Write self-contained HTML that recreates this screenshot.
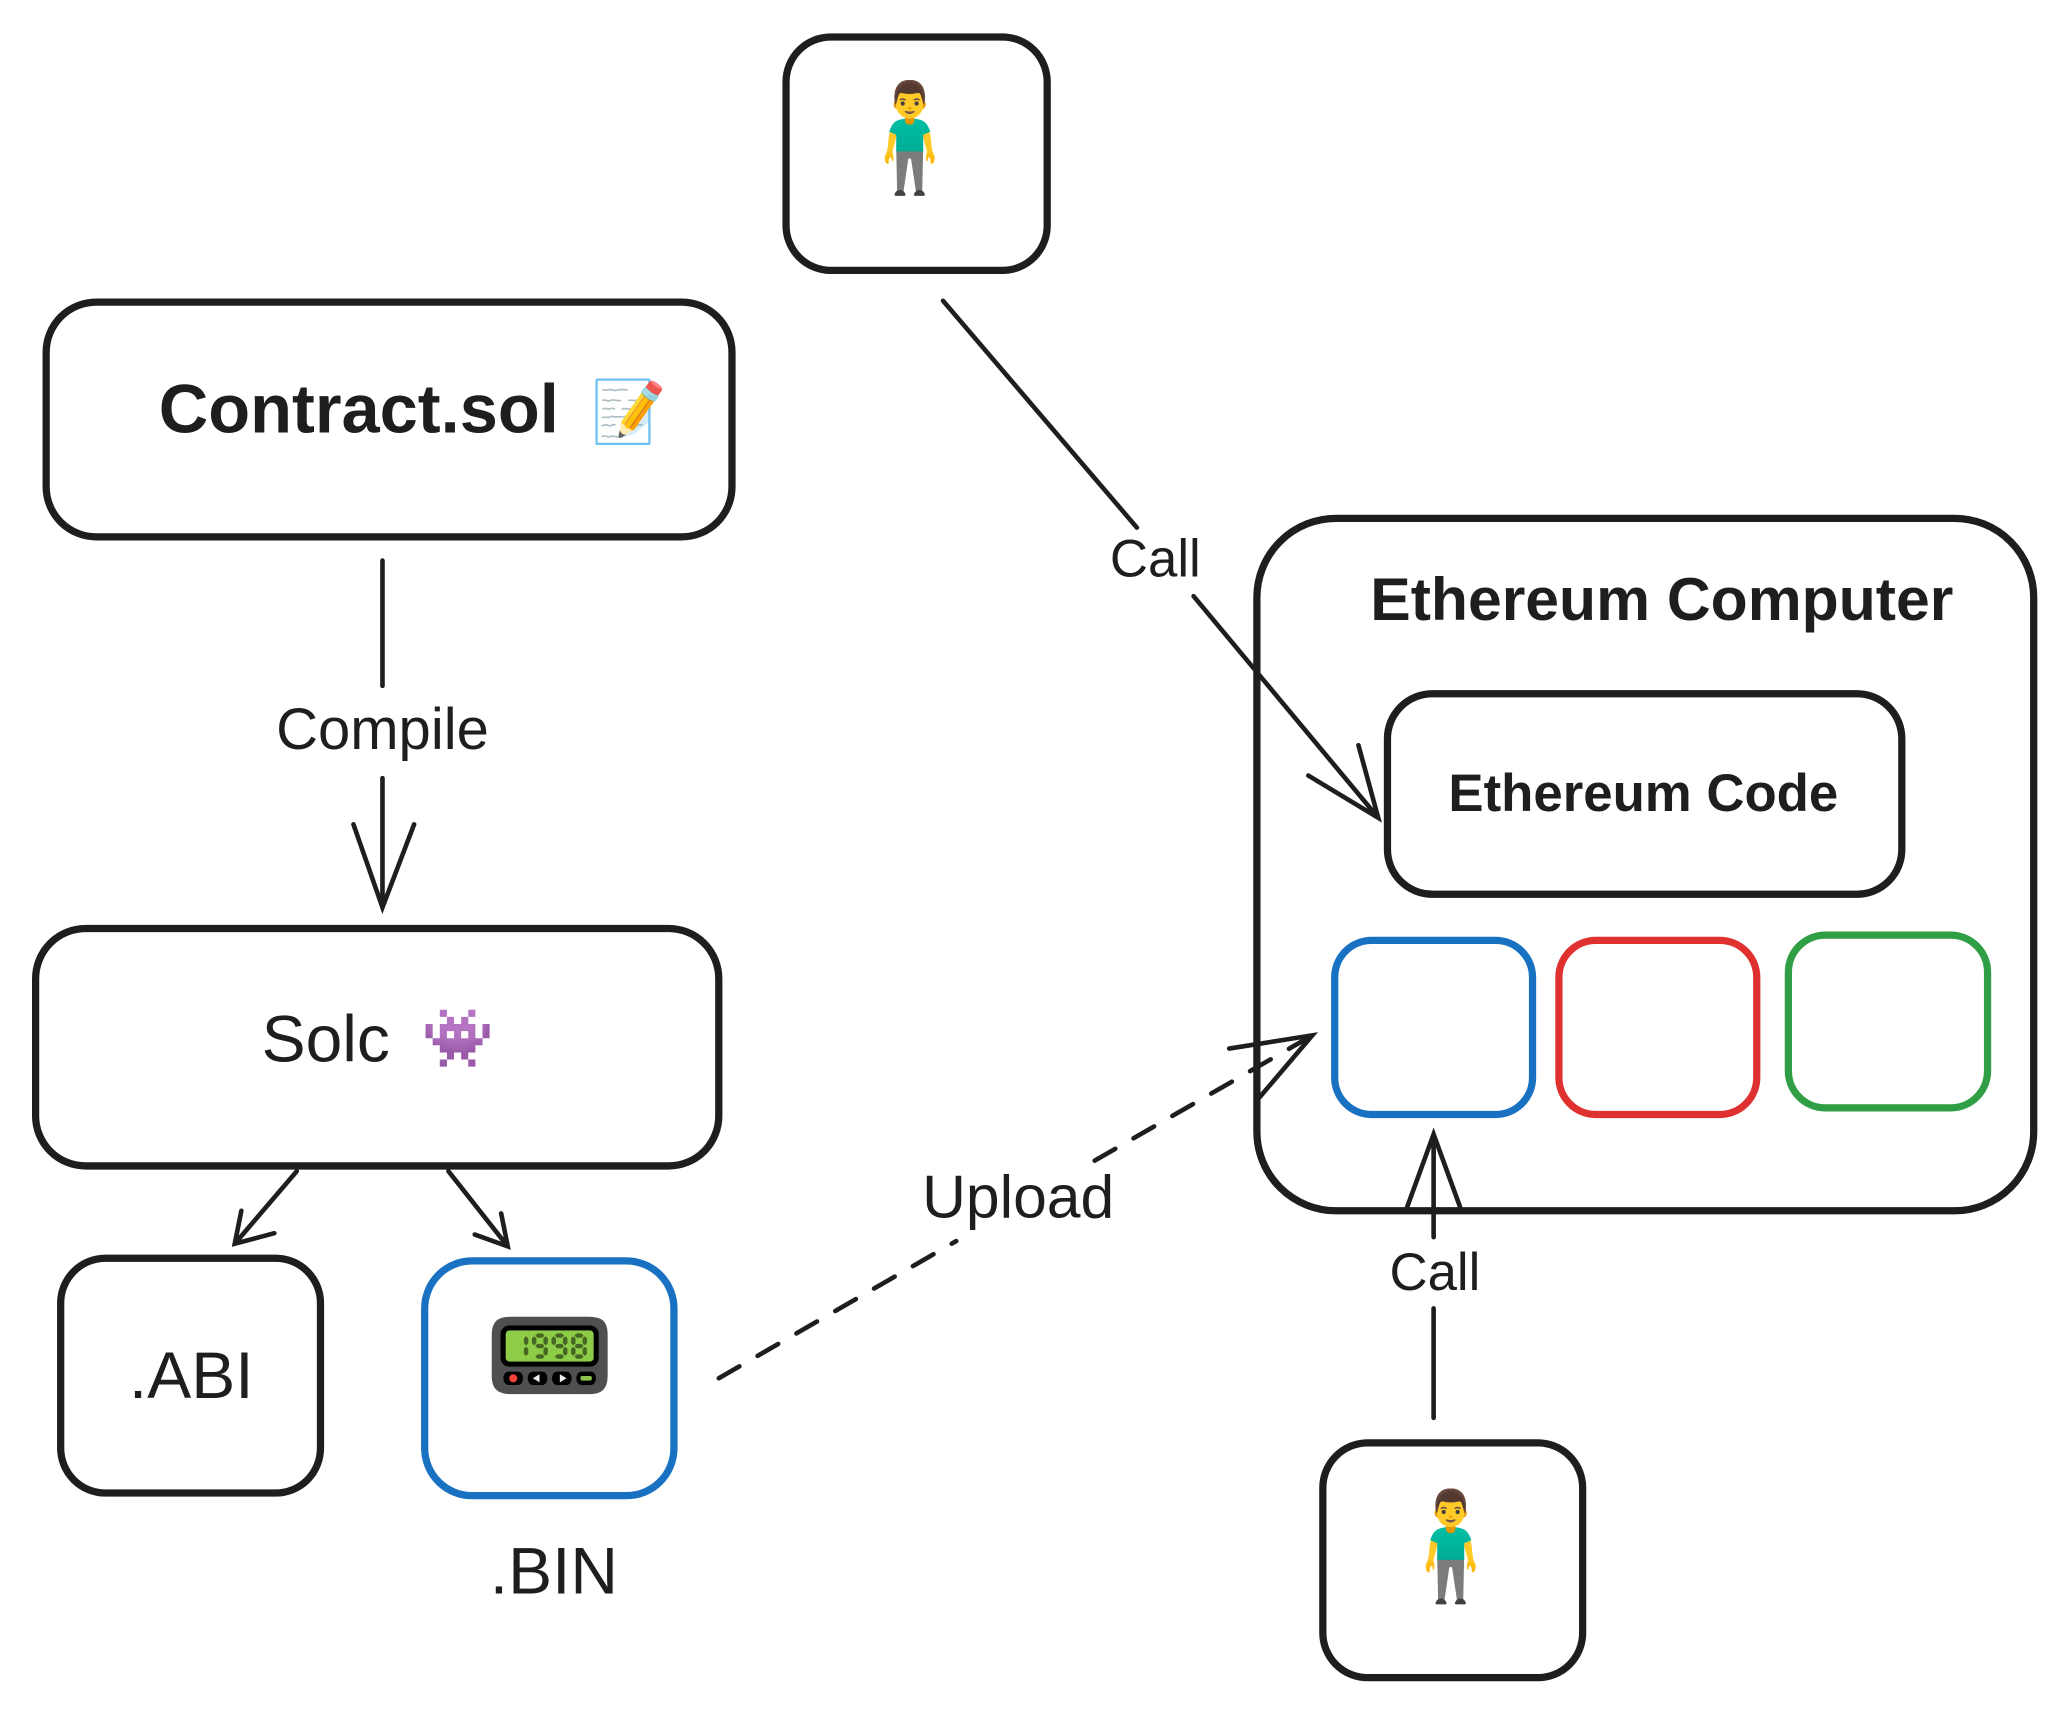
<!DOCTYPE html>
<html><head><meta charset="utf-8"><style>
html,body{margin:0;padding:0;background:#fff;}
svg{display:block}
text{font-family:"Liberation Sans","Noto Sans CJK JP",sans-serif;fill:#1e1e1e;}
</style></head><body>
<svg width="2068" height="1712" viewBox="0 0 1568 1298" xmlns="http://www.w3.org/2000/svg">
<rect width="1568" height="1298" fill="#fff"/>
<g fill="none" stroke="#1e1e1e" stroke-width="5.5" stroke-linecap="round" stroke-linejoin="round">
<rect x="596" y="28" width="198" height="177" rx="34"/>
<rect x="35" y="229" width="520" height="178" rx="38"/>
<rect x="27" y="704" width="518" height="180" rx="38"/>
<rect x="46" y="954" width="197" height="178" rx="34"/>
<rect x="953" y="393" width="589" height="525" rx="60"/>
<rect x="1052" y="526" width="390" height="152" rx="34"/>
<rect x="1003" y="1094" width="197" height="178" rx="34"/>
</g>
<g fill="none" stroke-width="5.5" stroke-linejoin="round">
<rect x="322" y="956" width="189" height="178" rx="36" stroke="#1971c2"/>
<rect x="1012" y="713" width="150" height="132" rx="28" stroke="#1971c2"/>
<rect x="1182" y="713" width="150" height="132" rx="28" stroke="#e03131"/>
<rect x="1356" y="709" width="151" height="131" rx="28" stroke="#2f9e44"/>
</g>
<g fill="none" stroke="#1e1e1e" stroke-width="3.5" stroke-linecap="round">
<path d="M290 425 L290 520 M290 590 L290 688 M268 625 L290 688 L314 625"/>
<path d="M225 888 L178 943 M183 918 L178 943 L208 935"/>
<path d="M340 888 L385 945 M360 936 L385 945 L380 920"/>
<path d="M715 228 L862 400 M905 452 L1045 620 M992 588 L1045 620 L1030 565"/>
<path d="M1087 1075 L1087 992 M1087 938 L1087 860 M1067 915 L1087 860 L1107 915"/>
<path d="M545 1045 L725 941" stroke-dasharray="18 16"/>
<path d="M830 880 L995 785" stroke-dasharray="18 16"/>
<path d="M932 795 L995 785 L955 832"/>
</g>
<text x="690" y="132" font-size="80" text-anchor="middle">🧍‍♂️</text>
<text x="1100" y="1200" font-size="80" text-anchor="middle">🧍‍♂️</text>
<text x="272" y="328" font-size="52" text-anchor="middle" font-weight="bold">Contract.sol</text>
<text x="477" y="328" font-size="46" text-anchor="middle">📝</text>
<text x="290" y="568" font-size="44" text-anchor="middle">Compile</text>
<text x="247" y="805" font-size="50" text-anchor="middle">Solc</text>
<text x="347" y="802" font-size="44" text-anchor="middle">👾</text>
<text x="145" y="1060" font-size="50" text-anchor="middle">.ABI</text>
<text x="417" y="1055" font-size="80" text-anchor="middle">📟</text>
<text x="420" y="1208" font-size="50" text-anchor="middle">.BIN</text>
<text x="772" y="923" font-size="46" text-anchor="middle">Upload</text>
<text x="876" y="437" font-size="40" text-anchor="middle">Call</text>
<text x="1088" y="978" font-size="40" text-anchor="middle">Call</text>
<text x="1260" y="470" font-size="46" text-anchor="middle" font-weight="bold">Ethereum Computer</text>
<text x="1246" y="615" font-size="40" text-anchor="middle" font-weight="bold">Ethereum Code</text>
</svg>
</body></html>
